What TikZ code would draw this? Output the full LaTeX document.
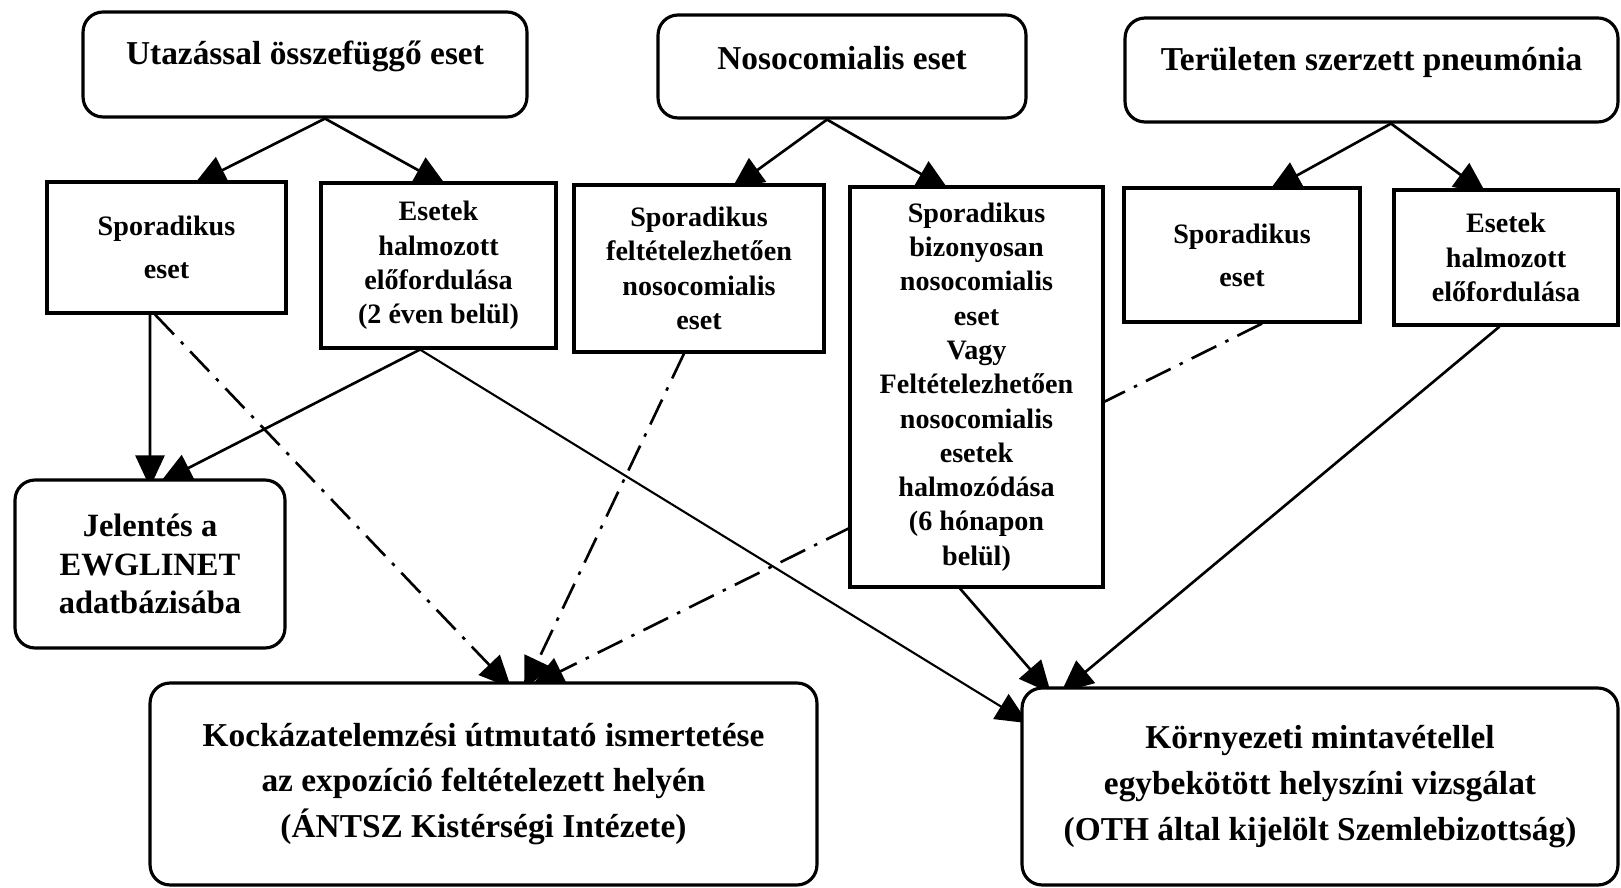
\documentclass[tikz,border=0pt]{standalone}
\usepackage{fontspec}
\setmainfont{Liberation Serif}
\usepackage{tikz}
\usetikzlibrary{arrows.meta,backgrounds}

\newcommand{\uptext}[1]{\raisebox{0.16cm}[\height][\depth]{#1}}

\begin{document}
\begin{tikzpicture}[x=0.02cm, y=-0.02cm,
	roundbox/.style={draw, line width=1.8pt, rounded corners=0.4cm, fill=white, align=center, font=\bfseries\fontsize{19}{26}\selectfont},
	casebox/.style={draw, line width=1.8pt, fill=white, align=center, font=\bfseries\fontsize{16}{19.5}\selectfont},
	arr/.style={line width=1.5pt, shorten >=-0.18cm, -{Triangle[length=0.64cm,width=0.58cm]}},
	dasharr/.style={arr, dash pattern=on 0.55cm off 0.2cm on 0.07cm off 0.2cm}]
	\useasboundingbox (0,0) rectangle (1621,888);
						\node[roundbox, minimum width=8.88cm, minimum height=2.1cm] (utaz) at (305,64.5) {\uptext{Utazással összefüggő eset}};
						\node[roundbox, minimum width=7.36cm, minimum height=2.06cm] (noso) at (842,66.5) {\uptext{Nosocomialis eset}};
						\node[roundbox, minimum width=9.86cm, minimum height=2.08cm] (terul) at (1371.5,70) {\uptext{Területen szerzett pneumónia}};
							\node[casebox, minimum width=4.78cm, minimum height=2.62cm] (utazspor) at (166.5,247.5) {Sporadikus\\[5pt]eset};
							\node[casebox, minimum width=4.7cm, minimum height=3.3cm] (utazhalm) at (438.5,265.5) {Esetek\\halmozott\\előfordulása\\(2 éven belül)};
							\node[casebox, minimum width=5cm, minimum height=3.34cm] (nosofelt) at (699,268.5) {Sporadikus\\feltételezhetően\\nosocomialis\\eset};
							\node[casebox, minimum width=5.06cm, minimum height=8cm] (nosobiz) at (976.5,387) {Sporadikus\\bizonyosan\\nosocomialis\\eset\\Vagy\\Feltételezhetően\\nosocomialis\\esetek\\halmozódása\\(6 hónapon\\belül)};
							\node[casebox, minimum width=4.72cm, minimum height=2.68cm] (terulspor) at (1242,255) {Sporadikus\\[5pt]eset};
							\node[casebox, minimum width=4.48cm, minimum height=2.7cm] (terulhalm) at (1506,257.5) {Esetek\\halmozott\\előfordulása};
						\node[roundbox, font=\bfseries\fontsize{18.5}{22}\selectfont, minimum width=5.4cm, minimum height=3.36cm] (jelentes) at (150,564) {Jelentés a\\EWGLINET\\adatbázisába};
						\node[roundbox, minimum width=13.34cm, minimum height=4.04cm] (kockazat) at (483.5,784) {Kockázatelemzési útmutató ismertetése\\az expozíció feltételezett helyén\\(ÁNTSZ Kistérségi Intézete)};
						\node[roundbox, minimum width=11.92cm, minimum height=3.94cm] (kornyezet) at (1320,786.5) {Környezeti mintavétellel\\egybekötött helyszíni vizsgálat\\(OTH által kijelölt Szemlebizottság)};
	\begin{scope}[on background layer]
						\draw[arr] ([xshift=0.4cm]utaz.south) -- ([xshift=0.71cm]utazspor.north);
						\draw[arr] ([xshift=0.4cm]utaz.south) -- (utazhalm.north);
						\draw[arr] ([xshift=-0.3cm]noso.south) -- ([xshift=0.8cm]nosofelt.north);
						\draw[arr] ([xshift=-0.3cm]noso.south) -- ([xshift=-0.71cm]nosobiz.north);
						\draw[arr] ([xshift=0.39cm]terul.south) -- ([xshift=0.7cm]terulspor.north);
						\draw[arr] ([xshift=0.39cm]terul.south) -- ([xshift=-0.54cm]terulhalm.north);
							\draw[arr] ([xshift=-0.33cm]utazspor.south) -- (jelentes.north);
							\draw[arr] ([xshift=-0.37cm]utazhalm.south) -- ([xshift=0.36cm]jelentes.north);
							\draw[dasharr] ([xshift=-0.23cm]utazspor.south) -- ([xshift=0.43cm]kockazat.north);
							\draw[dasharr] ([xshift=-0.3cm]nosofelt.south) -- ([xshift=0.89cm]kockazat.north);
							\draw[dasharr] ([xshift=0.4cm]terulspor.south) -- ([xshift=1.13cm]kockazat.north);
							\draw[arr, line width=1.2pt] ([xshift=-0.37cm]utazhalm.south) -- ([yshift=1.36cm]kornyezet.west);
							\draw[arr] ([xshift=-0.33cm]nosobiz.south) -- ([xshift=-5.5cm]kornyezet.north);
							\draw[arr] ([xshift=-0.13cm]terulhalm.south) -- ([xshift=-5.04cm]kornyezet.north);
	\end{scope}
\end{tikzpicture}
\end{document}
